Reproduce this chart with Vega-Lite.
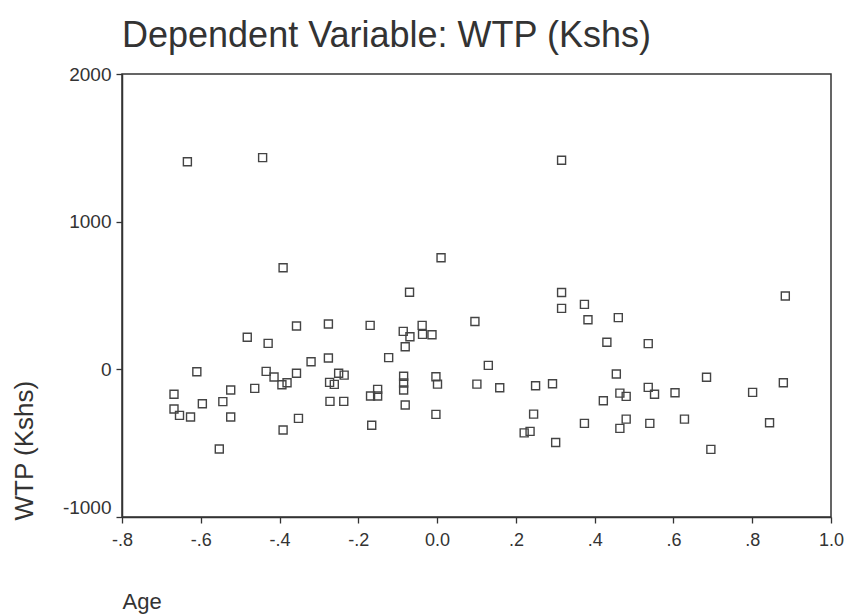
{
  "$schema": "https://vega.github.io/schema/vega-lite/v6.json",
  "autosize": "none",
  "width": 709,
  "height": 443,
  "padding": {"left": 122, "top": 74, "right": 16, "bottom": 99},
  "background": "white",
  "title": {
    "text": "Dependent Variable: WTP (Kshs)",
    "anchor": "start",
    "frame": "group",
    "font": "Liberation Sans",
    "fontSize": 36,
    "fontWeight": "normal",
    "color": "#333333",
    "offset": 10
  },
  "config": {
    "view": {"stroke": "#333333", "strokeWidth": 1.5},
    "axis": {
      "grid": false,
      "domainColor": "#333333",
      "domainWidth": 1.5,
      "tickColor": "#333333",
      "tickWidth": 1.3,
      "labelFont": "Liberation Sans",
      "labelColor": "#333333",
      "titleFont": "Liberation Sans",
      "titleColor": "#333333",
      "titleFontWeight": "normal"
    }
  },
  "data": {
    "values": [
      {"age": -0.634, "wtp": 1406}, {"age": -0.443, "wtp": 1434}, {"age": -0.391, "wtp": 688}, {"age": 0.010, "wtp": 756},
      {"age": -0.070, "wtp": 522}, {"age": 0.316, "wtp": 1416}, {"age": 0.316, "wtp": 520}, {"age": 0.884, "wtp": 497},
      {"age": 0.316, "wtp": 413}, {"age": 0.374, "wtp": 440}, {"age": 0.096, "wtp": 324}, {"age": 0.383, "wtp": 336},
      {"age": 0.460, "wtp": 350}, {"age": 0.431, "wtp": 183}, {"age": 0.536, "wtp": 174}, {"age": 0.130, "wtp": 27},
      {"age": 0.101, "wtp": -100}, {"age": 0.159, "wtp": -125}, {"age": 0.250, "wtp": -111}, {"age": 0.293, "wtp": -98},
      {"age": 0.455, "wtp": -32}, {"age": 0.684, "wtp": -54}, {"age": 0.879, "wtp": -91}, {"age": 0.536, "wtp": -122},
      {"age": 0.552, "wtp": -169}, {"age": 0.604, "wtp": -159}, {"age": 0.464, "wtp": -161}, {"age": 0.480, "wtp": -183},
      {"age": 0.422, "wtp": -213}, {"age": 0.801, "wtp": -156}, {"age": 0.245, "wtp": -303}, {"age": 0.480, "wtp": -337},
      {"age": 0.374, "wtp": -366}, {"age": 0.540, "wtp": -366}, {"age": 0.628, "wtp": -337}, {"age": 0.844, "wtp": -362},
      {"age": 0.464, "wtp": -400}, {"age": 0.221, "wtp": -430}, {"age": 0.236, "wtp": -420}, {"age": 0.301, "wtp": -495},
      {"age": 0.695, "wtp": -542},
      {"age": -0.357, "wtp": 293}, {"age": -0.276, "wtp": 307}, {"age": -0.170, "wtp": 298}, {"age": -0.482, "wtp": 217},
      {"age": -0.429, "wtp": 176}, {"age": -0.086, "wtp": 257}, {"age": -0.069, "wtp": 221}, {"age": -0.038, "wtp": 298},
      {"age": -0.037, "wtp": 237}, {"age": -0.013, "wtp": 234}, {"age": -0.081, "wtp": 153}, {"age": -0.123, "wtp": 79},
      {"age": -0.320, "wtp": 51}, {"age": -0.276, "wtp": 77}, {"age": -0.610, "wtp": -16}, {"age": -0.434, "wtp": -14},
      {"age": -0.414, "wtp": -52}, {"age": -0.394, "wtp": -104}, {"age": -0.381, "wtp": -91}, {"age": -0.357, "wtp": -27},
      {"age": -0.463, "wtp": -129}, {"age": -0.524, "wtp": -140}, {"age": -0.273, "wtp": -88}, {"age": -0.261, "wtp": -102},
      {"age": -0.250, "wtp": -27}, {"age": -0.236, "wtp": -39}, {"age": -0.085, "wtp": -47}, {"age": -0.085, "wtp": -93},
      {"age": -0.085, "wtp": -140}, {"age": -0.003, "wtp": -50}, {"age": 0.001, "wtp": -100}, {"age": -0.668, "wtp": -169},
      {"age": -0.544, "wtp": -219}, {"age": -0.596, "wtp": -233}, {"age": -0.668, "wtp": -269}, {"age": -0.654, "wtp": -312},
      {"age": -0.626, "wtp": -323}, {"age": -0.524, "wtp": -323}, {"age": -0.272, "wtp": -217}, {"age": -0.237, "wtp": -217},
      {"age": -0.169, "wtp": -181}, {"age": -0.151, "wtp": -136}, {"age": -0.151, "wtp": -181}, {"age": -0.081, "wtp": -242},
      {"age": -0.003, "wtp": -305}, {"age": -0.352, "wtp": -332}, {"age": -0.391, "wtp": -411}, {"age": -0.166, "wtp": -379},
      {"age": -0.553, "wtp": -540}
    ]
  },
  "mark": {
    "type": "point",
    "shape": "square",
    "filled": false,
    "size": 64,
    "stroke": "#444444",
    "strokeWidth": 1.4,
    "opacity": 1
  },
  "encoding": {
    "x": {
      "field": "age",
      "type": "quantitative",
      "scale": {"domain": [-0.8, 1.0], "nice": false, "zero": false},
      "axis": {
        "values": [-0.8, -0.6, -0.4, -0.2, 0, 0.2, 0.4, 0.6, 0.8, 1.0],
        "labelExpr": "datum.value == 0 ? '0.0' : (datum.value == 1 ? '1.0' : (datum.value < 0 ? '-' : '') + '.' + toString(round(abs(datum.value) * 10)))",
        "labelFontSize": 18,
        "tickSize": 6,
        "labelPadding": 8,
        "labelFlush": false,
        "title": "Age",
        "titleFontSize": 22,
        "titleAnchor": "start",
        "titleAlign": "left",
        "titleX": 0,
        "titleY": 91,
        "titleBaseline": "alphabetic"
      }
    },
    "y": {
      "field": "wtp",
      "type": "quantitative",
      "scale": {"domain": [-1000, 2000], "nice": false, "zero": false},
      "axis": {
        "values": [-1000, 0, 1000, 2000],
        "labelExpr": "toString(datum.value)",
        "labelFontSize": 19,
        "tickSize": 6,
        "labelPadding": 5,
        "labelFlush": false,
        "labelBaseline": {"condition": {"test": "datum.value == -1000", "value": "bottom"}, "value": "middle"},
        "title": "WTP (Kshs)",
        "titleFontSize": 26,
        "titleAngle": 270,
        "titleAnchor": null,
        "titleAlign": "left",
        "titleBaseline": "top",
        "titleX": -111,
        "titleY": 446
      }
    }
  }
}
